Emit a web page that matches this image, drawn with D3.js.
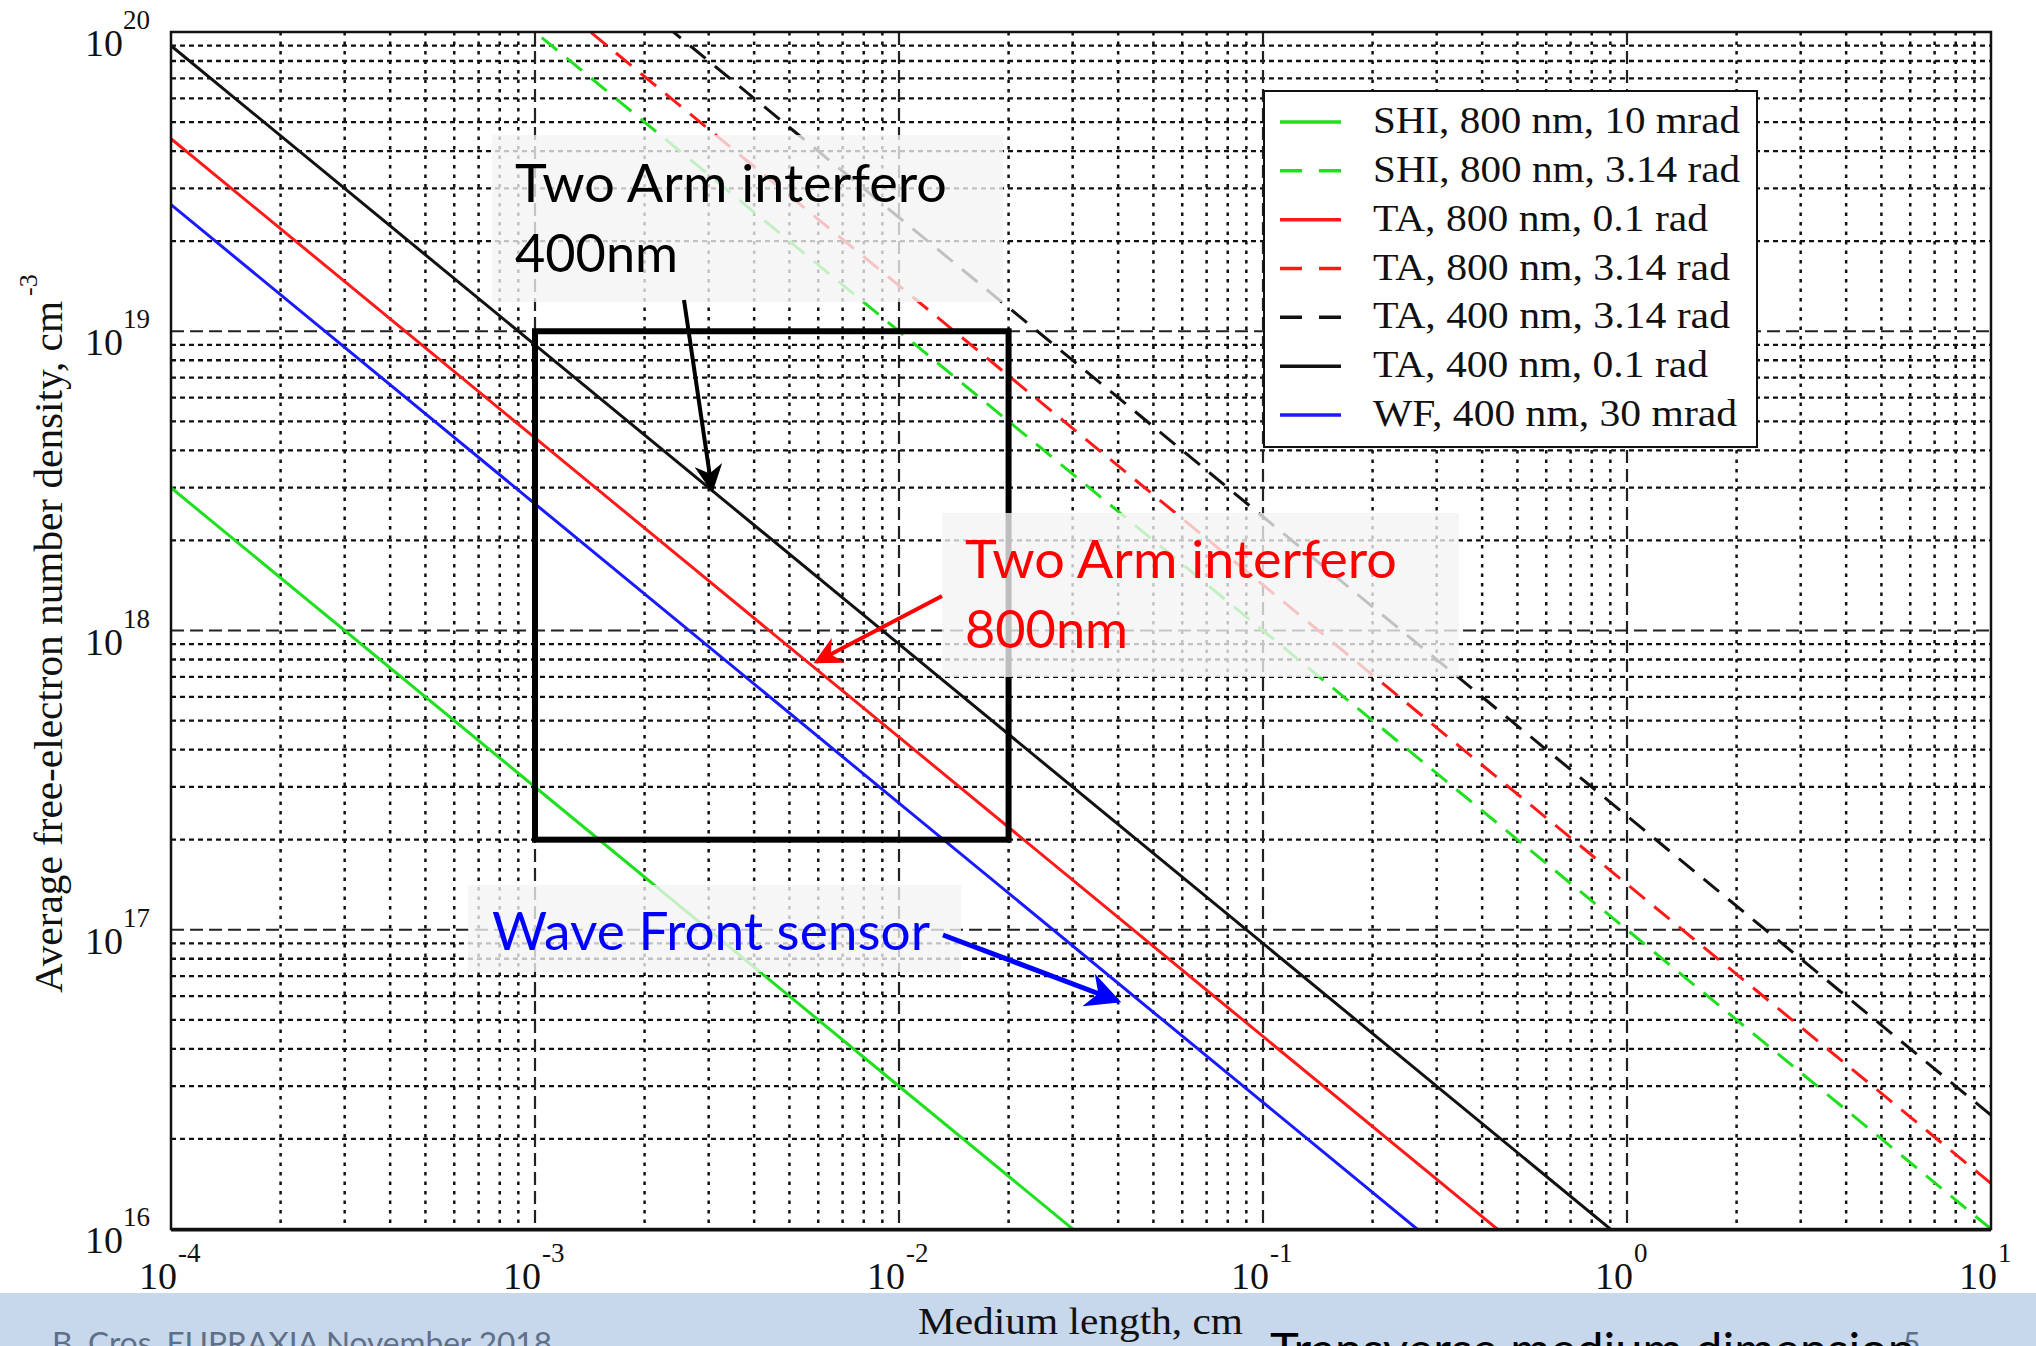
<!DOCTYPE html>
<html><head><meta charset="utf-8">
<script src="https://cdn.jsdelivr.net/npm/d3@7"></script>
<style>html,body{margin:0;padding:0;background:#fff;overflow:hidden}svg{display:block}</style>
</head><body>
<svg id="chart" width="2036" height="1346"></svg>
<script>
// ---------- data ----------
const lengthsCm = [1e-4, 1e-3, 1e-2, 1e-1, 1, 10];
const seriesLabels = ["SHI, 800 nm, 10 mrad","SHI, 800 nm, 3.14 rad","TA, 800 nm, 0.1 rad","TA, 800 nm, 3.14 rad","TA, 400 nm, 3.14 rad","TA, 400 nm, 0.1 rad","WF, 400 nm, 30 mrad"];
const shi800_10mrad  = [3.0e18, 3.0e17, 3.0e16, 3.0e15, 3.0e14, 3.0e13];
const shi800_314rad  = [1.0e21, 1.0e20, 1.0e19, 1.0e18, 1.0e17, 1.0e16];
const ta800_01rad    = [4.4e19, 4.4e18, 4.4e17, 4.4e16, 4.4e15, 4.4e14];
const ta800_314rad   = [1.42e21, 1.42e20, 1.42e19, 1.42e18, 1.42e17, 1.42e16];
const ta400_314rad   = [2.4e21, 2.4e20, 2.4e19, 2.4e18, 2.4e17, 2.4e16];
const ta400_01rad    = [9.0e19, 9.0e18, 9.0e17, 9.0e16, 9.0e15, 9.0e14];
const wf400_30mrad   = [2.65e19, 2.65e18, 2.65e17, 2.65e16, 2.65e15, 2.65e14];
const xTickExponents = ["-4","-3","-2","-1","0","1"];
const yTickExponents = ["16","17","18","19","20"];
const boxLength  = [1e-3, 2e-2];
const boxDensity = [2e17, 1e19];

// ---------- layout ----------
const svg = d3.select("#chart");
const L = 171, R = 1991, T = 32, B = 1229;
const x = d3.scaleLog().domain([1e-4, 10]).range([L, R]);
const y = d3.scaleLog().domain([1e16, 1e20]).range([B, T]);
const serif = "'Liberation Serif','Times New Roman',serif";
const sans = "Lato,'Open Sans',sans-serif";

const series = [
  {name: seriesLabels[0], v: shi800_10mrad, c: "#1ee01e", dash: null},
  {name: seriesLabels[1], v: shi800_314rad, c: "#1ee01e", dash: "20,12"},
  {name: seriesLabels[2], v: ta800_01rad,   c: "#ff1a1a", dash: null},
  {name: seriesLabels[3], v: ta800_314rad,  c: "#ff1a1a", dash: "20,12"},
  {name: seriesLabels[4], v: ta400_314rad,  c: "#111111", dash: "20,12"},
  {name: seriesLabels[5], v: ta400_01rad,   c: "#111111", dash: null},
  {name: seriesLabels[6], v: wf400_30mrad,  c: "#1a1aff", dash: null}
];

svg.append("defs").append("clipPath").attr("id","plotclip")
  .append("rect").attr("x",L).attr("y",T).attr("width",R-L).attr("height",B-T);

// ---------- grid ----------
const grid = svg.append("g");
const isMajor = v => Math.abs(Math.log10(v) - Math.round(Math.log10(v))) < 1e-9;
const xt = x.ticks().filter(v => v > 1e-4 && v < 10);
const yt = y.ticks().filter(v => v > 1e16 && v < 1e20);
grid.selectAll(".hmin").data(yt.filter(v => !isMajor(v))).join("line")
  .attr("x1",L).attr("x2",R).attr("y1",d=>y(d)).attr("y2",d=>y(d))
  .attr("stroke","#111").attr("stroke-width",2.3).attr("stroke-dasharray","5,4");
grid.selectAll(".vmin").data(xt.filter(v => !isMajor(v))).join("line")
  .attr("y1",T).attr("y2",B).attr("x1",d=>x(d)).attr("x2",d=>x(d))
  .attr("stroke","#111").attr("stroke-width",2.5).attr("stroke-dasharray","3.5,6");
grid.selectAll(".hmaj").data(yt.filter(isMajor)).join("line")
  .attr("x1",L).attr("x2",R).attr("y1",d=>y(d)).attr("y2",d=>y(d))
  .attr("stroke","#222").attr("stroke-width",2.2).attr("stroke-dasharray","13,6");
grid.selectAll(".vmaj").data(xt.filter(isMajor)).join("line")
  .attr("y1",T).attr("y2",B).attr("x1",d=>x(d)).attr("x2",d=>x(d))
  .attr("stroke","#222").attr("stroke-width",2.2).attr("stroke-dasharray","13,6");

// ---------- curves ----------
const line = d3.line().x((d,i)=>x(lengthsCm[i])).y(d=>y(d));
const curves = svg.append("g").attr("clip-path","url(#plotclip)");
series.forEach(s => {
  curves.append("path").attr("d", line(s.v)).attr("fill","none")
    .attr("stroke", s.c).attr("stroke-width", 3)
    .attr("stroke-dasharray", s.dash);
});

// ---------- frame ----------
svg.append("rect").attr("x",L).attr("y",T).attr("width",R-L).attr("height",B-T)
  .attr("fill","none").attr("stroke","#111").attr("stroke-width",2.5);
svg.append("line").attr("x1",L).attr("x2",R).attr("y1",B+1).attr("y2",B+1)
  .attr("stroke","#111").attr("stroke-width",3);

// ---------- black box ----------
svg.append("rect").attr("x",x(boxLength[0])).attr("y",y(boxDensity[1]))
  .attr("width",x(boxLength[1])-x(boxLength[0])).attr("height",y(boxDensity[0])-y(boxDensity[1]))
  .attr("fill","none").attr("stroke","#000").attr("stroke-width",6);

// ---------- tick labels ----------
const tickG = svg.append("g").attr("font-family",serif).attr("fill","#111");
xTickExponents.forEach(e => {
  const px = x(Math.pow(10, +e));
  tickG.append("text").attr("x",px+6).attr("y",1289).attr("text-anchor","end")
    .attr("font-size",38).text("10");
  tickG.append("text").attr("x",px+7).attr("y",1262).attr("font-size",27).text(e);
});
yTickExponents.forEach(e => {
  const py = y(Math.pow(10, +e));
  tickG.append("text").attr("x",L-48).attr("y",py+24).attr("text-anchor","end")
    .attr("font-size",38).text("10");
  tickG.append("text").attr("x",L-48).attr("y",py-3).attr("font-size",27).text(e);
});

// axis titles
svg.append("text").attr("transform","translate(62,993) rotate(-90)")
  .attr("font-family",serif).attr("font-size",40).attr("fill","#111")
  .attr("textLength",692).attr("lengthAdjust","spacingAndGlyphs")
  .text("Average free-electron number density, cm");
svg.append("text").attr("transform","translate(37,296) rotate(-90)")
  .attr("font-family",serif).attr("font-size",26).attr("fill","#111").text("-3");

// ---------- annotation overlays ----------
const ann = svg.append("g");
const overlays = [[492,135,511,167],[942,513,517,164],[468,885,493,87]];
overlays.forEach(o => ann.append("rect").attr("x",o[0]).attr("y",o[1]).attr("width",o[2]).attr("height",o[3])
  .attr("fill","#f3f3f3").attr("opacity",0.78));

const defs = svg.select("defs");
[["ab","#000"],["ar","#ff0000"],["au","#0000ff"]].forEach(([id,c]) => {
  defs.append("marker").attr("id",id).attr("viewBox","0 0 10 10").attr("refX",9).attr("refY",5)
    .attr("markerWidth",7).attr("markerHeight",7).attr("orient","auto")
    .append("path").attr("d","M0,0 L10,5 L0,10 L3,5 Z").attr("fill",c);
});
function arrow(x1,y1,x2,y2,c,w,m){
  ann.append("line").attr("x1",x1).attr("y1",y1).attr("x2",x2).attr("y2",y2)
    .attr("stroke",c).attr("stroke-width",w).attr("marker-end","url(#"+m+")");
}
arrow(684,300,712,490,"#000",4,"ab");
arrow(942,596,816,662,"#ff0000",4,"ar");
arrow(943,935,1118,1001,"#0000ff",5,"au");

function annText(t,xx,yy,c,w){
  ann.append("text").attr("x",xx).attr("y",yy).attr("font-family",sans).attr("font-size",52)
    .attr("fill",c).attr("textLength",w).attr("lengthAdjust","spacingAndGlyphs").text(t);
}
annText("Two Arm interfero",515,202,"#000",432);
annText("400nm",515,272,"#000",163);
annText("Two Arm interfero",965,578,"#ff0000",432);
annText("800nm",965,648,"#ff0000",163);
annText("Wave Front sensor",492,950,"#0000ff",438);

// ---------- legend ----------
const lg = svg.append("g");
lg.append("rect").attr("x",1264).attr("y",91).attr("width",493).attr("height",356)
  .attr("fill","#fff").attr("stroke","#111").attr("stroke-width",2);
const rowY = d3.scalePoint().domain(seriesLabels).range([122,415]);
const textW = [367,367,335,357,357,335,364];
series.forEach((s,i) => {
  const cy = rowY(s.name);
  lg.append("line").attr("x1",1280).attr("x2",1341).attr("y1",cy).attr("y2",cy)
    .attr("stroke",s.c).attr("stroke-width",3.5).attr("stroke-dasharray", s.dash ? "22,17" : null);
  lg.append("text").attr("x",1373).attr("y",cy+11).attr("font-family",serif).attr("font-size",37)
    .attr("fill","#111").attr("textLength",textW[i]).attr("lengthAdjust","spacingAndGlyphs").text(s.name);
});

// ---------- slide footer ----------
svg.append("rect").attr("x",0).attr("y",1293).attr("width",2036).attr("height",53).attr("fill","#c7d7ec");
svg.append("text").attr("x",918).attr("y",1334).attr("font-family",serif).attr("font-size",38)
  .attr("fill","#111").attr("textLength",325).attr("lengthAdjust","spacingAndGlyphs").text("Medium length, cm");
svg.append("text").attr("x",52).attr("y",1354).attr("font-family",sans).attr("font-size",30)
  .attr("fill","#5f6f88").attr("textLength",500).attr("lengthAdjust","spacingAndGlyphs").text("B. Cros, EUPRAXIA November 2018");
svg.append("text").attr("x",1270).attr("y",1366).attr("font-family",sans).attr("font-size",46)
  .attr("fill","#000").attr("textLength",645).attr("lengthAdjust","spacingAndGlyphs").text("Transverse medium dimension");
svg.append("text").attr("x",1903).attr("y",1354).attr("font-family",sans).attr("font-size",30)
  .attr("fill","#5f6f88").text("5");
</script>
</body></html>
